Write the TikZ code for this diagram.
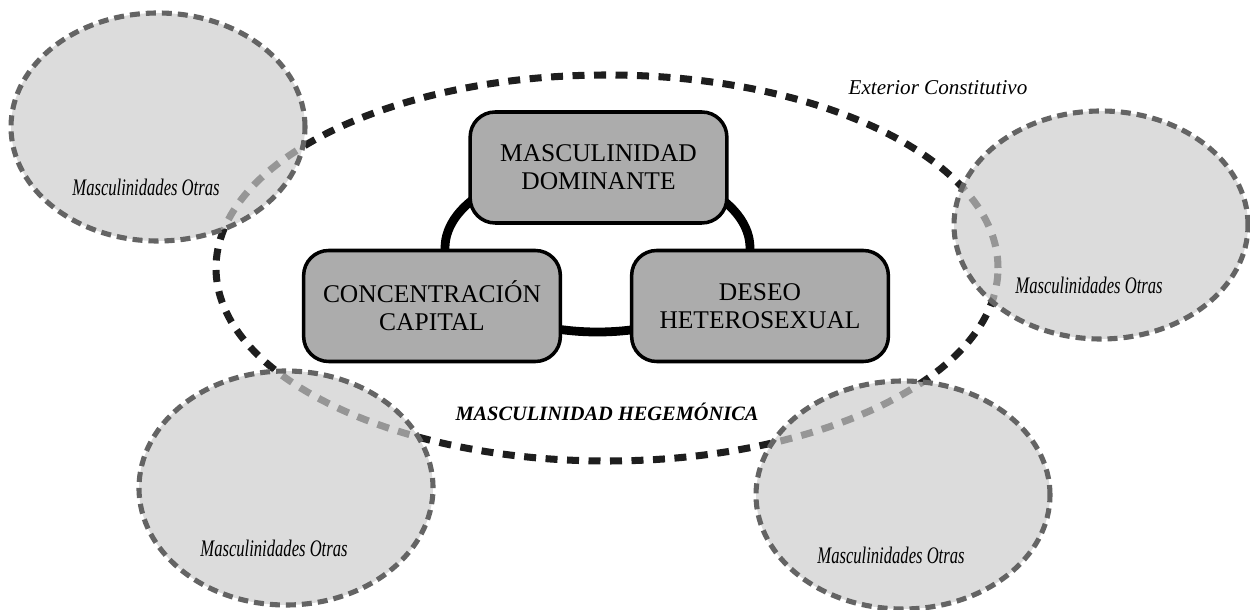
\documentclass[tikz,border=0pt]{standalone}
\usepackage{fontspec}
\setmainfont{Liberation Serif}
\newfontfamily\condfont{Liberation Serif}[FakeStretch=0.7]
\usepackage{xcolor}
\usepackage{tikz}
\usetikzlibrary{shapes.geometric, positioning}
\definecolor{boxgray}{RGB}{172,172,172}
\definecolor{othfill}{RGB}{204,204,204}
\definecolor{othline}{RGB}{100,100,100}
\definecolor{hegline}{RGB}{30,30,30}
\tikzstyle{block} = [rectangle, draw, line width=2pt, fill=boxgray, text width=4.9cm, text centered, rounded corners=0.5cm, minimum width=5.06cm, minimum height=2.22cm, font=\fontsize{14.5}{16}\selectfont]
\tikzstyle{heg} = [ellipse, draw=hegline, line width=4pt, dash pattern=on 0.24cm off 0.19cm, inner sep=0pt, minimum width=15.64cm, minimum height=7.72cm]
\tikzstyle{otras} = [ellipse, draw=othline, line width=2.9pt, dash pattern=on 0.2cm off 0.12cm, fill=othfill, fill opacity=0.69, inner sep=0pt, minimum width=5.88cm, minimum height=4.56cm]
\tikzstyle{otrastext} = [font=\condfont\itshape\fontsize{13.5}{15}\selectfont]
\tikzstyle{ringline} = [ellipse, draw, line width=5pt, inner sep=0pt, minimum width=6.1cm, minimum height=3.36cm]
\tikzset{every node/.style={align=center}}

\begin{document}
\begin{tikzpicture}[node distance=2.77cm]
    \useasboundingbox (0,0) rectangle (25,12.18);
    \node (hegemonia) [heg] at (12.14,6.82) {};
    \node (otras1) [otras] at (3.16,9.64) {};
    \node (otras2) [otras] at (22.02,7.68) {};
    \node (otras3) [otras, minimum height=4.68cm] at (5.72,2.42) {};
    \node (otras4) [otras] at (18.06,2.28) {};
    \node (txt1) [otrastext] at ([shift={(-0.24,-1.2)}]otras1.center) {Masculinidades Otras};
    \node (txt2) [otrastext] at ([shift={(-0.24,-1.2)}]otras2.center) {Masculinidades Otras};
    \node (txt3) [otrastext] at ([shift={(-0.24,-1.2)}]otras3.center) {Masculinidades Otras};
    \node (txt4) [otrastext] at ([shift={(-0.24,-1.2)}]otras4.center) {Masculinidades Otras};

    \node (ring) [ringline] at (11.95,7.22) {};
    \node (dom) [block] at (11.97,8.83) {MASCULINIDAD\\DOMINANTE};
    \node (capital) [block, below of=dom, xshift=-3.33cm] {CONCENTRACIÓN\\CAPITAL};
    \node (deseo) [block, below of=dom, xshift=3.23cm] {DESEO\\HETEROSEXUAL};

    \node (exterior) [font=\itshape\fontsize{12}{14}\selectfont] at (18.76,10.42) {Exterior Constitutivo};
    \node (heglabel) [font=\bfseries\itshape\fontsize{11.6}{14}\selectfont] at (12.14,3.94) {MASCULINIDAD HEGEMÓNICA};
\end{tikzpicture}
\end{document}
